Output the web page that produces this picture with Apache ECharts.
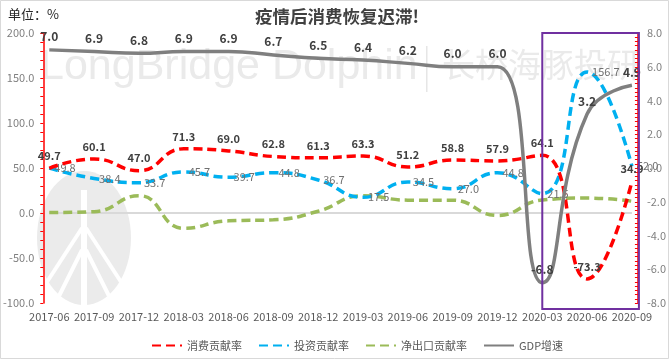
<!DOCTYPE html>
<html><head><meta charset="utf-8">
<script src="https://cdn.jsdelivr.net/npm/echarts@6/dist/echarts.min.js"></script>
<style>html,body{margin:0;padding:0;background:#fff}#c{width:669px;height:359px}</style>
</head><body><div id="c"></div>
<script>
const categories = ['2017-06','2017-09','2017-12','2018-03','2018-06','2018-09','2018-12','2019-03','2019-06','2019-09','2019-12','2020-03','2020-06','2020-09'];
const consumption = [49.7,60.1,47.0,71.3,69.0,62.8,61.3,63.3,51.2,58.8,57.9,64.1,-73.3,34.9];
const investment = [49.8,38.4,33.7,45.7,39.7,44.8,36.7,17.5,34.5,27.0,44.8,21.5,156.7,52.0];
const netExport = [0.5,1.5,19.3,-17.0,-8.7,-7.6,2.0,19.2,14.3,14.2,-2.7,14.4,16.6,13.1];
const gdp = [7.0,6.9,6.8,6.9,6.9,6.7,6.5,6.4,6.2,6.0,6.0,-6.8,3.2,4.9];
const seriesNames = ['消费贡献率','投资贡献率','净出口贡献率','GDP增速'];
const leftAxis = {min:-100, max:200, interval:50};
const rightAxis = {min:-8, max:8, interval:2};
const titleText = '疫情后消费恢复迟滞!';
const unitText = '单位：%';

const chart = echarts.init(document.getElementById('c'), null, {renderer:'canvas'});
const fontFamily = '"Microsoft YaHei","Noto Sans CJK SC","Liberation Sans",sans-serif';
const dash = [9,5];
const fmt = p => Number(p.value).toFixed(1);

const option = {
  animation:false,
  textStyle:{fontFamily},
  title:[
    {text:titleText, left:255, top:8, textStyle:{color:'#404040', fontSize:17.5, fontWeight:'bold', fontFamily}, padding:0},
    {text:unitText, left:8, top:8, textStyle:{color:'#262626', fontSize:13, fontWeight:'normal', fontFamily}, padding:0}
  ],
  grid:{left:43, right:33, top:33, bottom:56, containLabel:false},
  legend:{
    top:335, left:146, itemWidth:30, itemHeight:10, itemGap:16,
    textStyle:{color:'#595959', fontSize:11, fontFamily},
    data:seriesNames
  },
  xAxis:{
    type:'category', data:categories, boundaryGap:false,
    axisLine:{show:false}, axisTick:{show:false},
    axisLabel:{color:'#595959', fontSize:11, interval:0, margin:8}
  },
  yAxis:[
    {type:'value', position:'left', offset:6, min:leftAxis.min, max:leftAxis.max, interval:leftAxis.interval,
     axisLine:{show:true, lineStyle:{color:'#ff0000', width:1.5}},
     axisTick:{show:true, length:3, lineStyle:{color:'#ff0000'}},
     minorTick:{show:true, splitNumber:5, length:3, lineStyle:{color:'#ff0000'}},
     splitLine:{show:false},
     axisLabel:{color:'#808080', fontSize:11, margin:9, formatter:v=>v.toFixed(1)}},
    {type:'value', position:'right', offset:6, min:rightAxis.min, max:rightAxis.max, interval:rightAxis.interval,
     axisLine:{show:true, lineStyle:{color:'#ff0000', width:1.5}},
     axisTick:{show:true, inside:true, length:3, lineStyle:{color:'#ff0000'}},
     minorTick:{show:true, splitNumber:8, length:3, lineStyle:{color:'#ff0000'}},
     splitLine:{show:false},
     axisLabel:{color:'#808080', fontSize:11, margin:9, formatter:v=>v.toFixed(1)}}
  ],
  series:[
    {name:seriesNames[0], type:'line', yAxisIndex:0, data:consumption, smooth:0.5, z:5,
     symbol:'circle', symbolSize:2, showSymbol:true,
     lineStyle:{color:'#ff0000', width:3.5, type:dash},
     itemStyle:{color:'transparent', borderWidth:0},
     label:{show:true, position:'top', distance:6, color:'#404040', fontSize:11, fontWeight:'bold', formatter:fmt}},
    {name:seriesNames[1], type:'line', yAxisIndex:0, data:investment, smooth:0.5, z:4,
     symbol:'circle', symbolSize:2, showSymbol:true,
     lineStyle:{color:'#00b0f0', width:3.5, type:dash},
     itemStyle:{color:'transparent', borderWidth:0},
     label:{show:true, position:'right', distance:4, color:'#707070', fontSize:11, formatter:fmt}},
    {name:seriesNames[2], type:'line', yAxisIndex:0, data:netExport, smooth:0.5, z:3,
     symbol:'circle', symbolSize:2, showSymbol:true,
     lineStyle:{color:'#9bbb59', width:3.5, type:dash},
     itemStyle:{color:'transparent', borderWidth:0},
     markLine:{silent:true, symbol:'none', label:{show:false}, z:1,
       lineStyle:{color:'#d9d9d9', type:'solid', width:2}, data:[{yAxis:0}]}},
    {name:seriesNames[3], type:'line', yAxisIndex:1, data:gdp, smooth:0.5, z:6,
     symbol:'circle', symbolSize:2, showSymbol:true,
     lineStyle:{color:'#7f7f7f', width:3.5},
     itemStyle:{color:'transparent', borderWidth:0},
     label:{show:true, position:'top', distance:6, color:'#404040', fontSize:12, fontWeight:'bold', formatter:fmt}}
  ],
  graphic:[
    {type:'rect', left:0, top:0, z:-10, shape:{x:0.5,y:0.5,width:668,height:358}, style:{fill:'#fff', stroke:'#d9d9d9', lineWidth:1}},
    {type:'text', z:-5, left:40, top:46, style:{text:'LongBridge Dolphin', fill:'#eaeaea', fontSize:43, fontFamily:'"Liberation Sans", Arial, sans-serif'}},
    {type:'rect', z:-5, left:426, top:46, shape:{width:1.5,height:46}, style:{fill:'#e6e6e6'}},
    {type:'text', z:-5, left:442, top:48, style:{text:'长桥海豚投研', fill:'#eaeaea', fontSize:33, fontFamily:'"Noto Sans CJK SC", sans-serif'}},
    {type:'ellipse', z:-5, shape:{cx:84, cy:238, rx:47, ry:67}, style:{fill:'#ebebeb'}},
    {type:'polyline', z:-4, shape:{points:[[84,190],[84,305]]}, style:{stroke:'#fff', lineWidth:6, fill:null}},
    {type:'polyline', z:-4, shape:{points:[[82,228],[45,285]]}, style:{stroke:'#fff', lineWidth:4, fill:null}},
    {type:'polyline', z:-4, shape:{points:[[82,250],[57,300]]}, style:{stroke:'#fff', lineWidth:4, fill:null}},
    {type:'polyline', z:-4, shape:{points:[[86,228],[123,285]]}, style:{stroke:'#fff', lineWidth:4, fill:null}},
    {type:'polyline', z:-4, shape:{points:[[86,250],[111,300]]}, style:{stroke:'#fff', lineWidth:4, fill:null}}
  ]
};
chart.setOption(option);

// highlight box for the 2020 period, positioned via the chart's own scales
const x0 = chart.convertToPixel({xAxisIndex:0}, '2020-03');
const x1 = chart.convertToPixel({xAxisIndex:0}, '2020-09') + 7;
const y0 = chart.convertToPixel({yAxisIndex:0}, leftAxis.max);
const y1 = chart.convertToPixel({yAxisIndex:0}, leftAxis.min) + 6;
chart.setOption({graphic:[{id:'box', type:'rect', z:100, shape:{x:x0, y:y0, width:x1-x0, height:y1-y0}, style:{fill:'none', stroke:'#7030a0', lineWidth:2}}]});
</script></body></html>
